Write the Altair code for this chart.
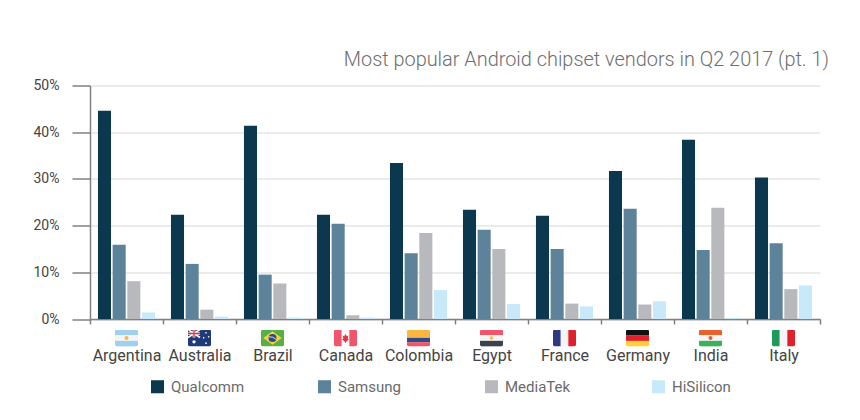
import altair as alt
import pandas as pd
from urllib.parse import quote

countries = ["Argentina", "Australia", "Brazil", "Canada", "Colombia", "Egypt", "France", "Germany", "India", "Italy"]
vendors = ["Qualcomm", "Samsung", "MediaTek", "HiSilicon"]
qualcomm = [44.6, 22.3, 41.4, 22.3, 33.4, 23.4, 22.1, 31.7, 38.4, 30.3]
samsung = [15.9, 11.8, 9.5, 20.4, 14.1, 19.1, 15.0, 23.6, 14.8, 16.2]
mediatek = [8.1, 2.0, 7.6, 0.8, 18.4, 15.0, 3.3, 3.1, 23.8, 6.4]
hisilicon = [1.4, 0.5, 0.3, 0.3, 6.2, 3.2, 2.7, 3.8, 0.2, 7.2]
vendor_colors = ["#0c384f", "#5c8399", "#b8b9bd", "#c8e9f9"]

FONT = "Roboto"


def svg(body):
    s = ('<svg xmlns="http://www.w3.org/2000/svg" width="69" height="51" viewBox="0 0 69 51">'
         '<defs><clipPath id="c"><rect width="69" height="51" rx="6"/></clipPath></defs>'
         '<g clip-path="url(#c)">' + body + '</g></svg>')
    return "data:image/svg+xml," + quote(s)


def bands(colors):
    h = 51 / len(colors)
    return "".join(f'<rect y="{i*h}" width="69" height="{h+0.5}" fill="{c}"/>' for i, c in enumerate(colors))


def vbands(colors):
    w = 69 / len(colors)
    return "".join(f'<rect x="{i*w}" width="{w+0.5}" height="51" fill="{c}"/>' for i, c in enumerate(colors))


flags = [
    svg(bands(["#9fd0f0", "#f5f5f5", "#9fd0f0"]) + '<circle cx="34.5" cy="25.5" r="6" fill="#fbb63f"/>'),
    svg('<rect width="69" height="51" fill="#1e3a78"/>'
        '<rect width="36" height="24" fill="#1e3a78"/>'
        '<path d="M0 0L36 24M36 0L0 24" stroke="#fff" stroke-width="5"/>'
        '<path d="M18 0V24M0 12H36" stroke="#fff" stroke-width="8"/>'
        '<path d="M18 0V24M0 12H36" stroke="#e2334a" stroke-width="4"/>'
        '<circle cx="18" cy="37" r="5" fill="#fff"/><circle cx="54" cy="10" r="2.5" fill="#fff"/>'
        '<circle cx="62" cy="22" r="2.5" fill="#fff"/><circle cx="47" cy="25" r="2.5" fill="#fff"/>'
        '<circle cx="54" cy="41" r="2.5" fill="#fff"/>'),
    svg('<rect width="69" height="51" fill="#55b04a"/><path d="M34.5 5L62 25.5L34.5 46L7 25.5Z" fill="#fbd23c"/>'
        '<circle cx="34.5" cy="25.5" r="12" fill="#2a4a8c"/>'
        '<path d="M23 22Q36 20 46 30" stroke="#fff" stroke-width="2.5" fill="none"/>'),
    svg(vbands(["#f0566a", "#fafafa", "#f0566a"]) +
        '<path d="M34.5 13L38 20L43 18L41 28L45 29L37 36L36 40H33L32 36L24 29L28 28L26 18L31 20Z" fill="#e2334a"/>'),
    svg('<rect width="69" height="25" fill="#fbb63f"/><rect y="25" width="69" height="13" fill="#2e4a8c"/>'
        '<rect y="38" width="69" height="13" fill="#f0566a"/>'),
    svg(bands(["#f0566a", "#f5f5f5", "#3c424c"]) + '<circle cx="34.5" cy="25.5" r="5" fill="#fbb63f"/>'),
    svg(vbands(["#2e3a80", "#f5f5f5", "#e2202c"])),
    svg(bands(["#111111", "#e2202c", "#fbd23c"])),
    svg(bands(["#e8622c", "#f5f5f5", "#3cb05a"]) + '<circle cx="34.5" cy="25.5" r="6" fill="#e8622c"/>'),
    svg(vbands(["#1f9a5a", "#f5f5f5", "#e2202c"])),
]

rows = []
for i, c in enumerate(countries):
    for v, series in zip(vendors, [qualcomm, samsung, mediatek, hisilicon]):
        rows.append({"country": c, "vendor": v, "share": series[i]})
df = pd.DataFrame(rows)
flag_df = pd.DataFrame({"country": countries, "flag": flags})

x_scale = alt.Scale(domain=countries, paddingInner=0, paddingOuter=0)

bars = alt.Chart(df).mark_bar().encode(
    x=alt.X("country:N", sort=countries, scale=x_scale, title=None,
            axis=alt.Axis(labelAngle=0, tickBand="extent", tickSize=5, tickColor="#808080", tickWidth=1.5,
                          domainColor="#808080", domainWidth=1.5, labelPadding=23, labelFont=FONT,
                          labelFontSize=16, labelColor="#444444", grid=False)),
    xOffset=alt.XOffset("vendor:N", sort=vendors, scale=alt.Scale(domain=vendors, paddingInner=0.11, paddingOuter=0.543)),
    y=alt.Y("share:Q", scale=alt.Scale(domain=[0, 50], nice=False), title=None,
            axis=alt.Axis(values=[0, 10, 20, 30, 40, 50], labelExpr="datum.value + '%'", tickSize=18,
                          tickColor="#808080", tickWidth=1.5, domainColor="#808080", domainWidth=1.5,
                          gridColor="#e4e4e4", gridWidth=1.5, labelPadding=13, labelFont=FONT,
                          labelFontSize=14, labelColor="#444444")),
    color=alt.Color("vendor:N", sort=vendors, scale=alt.Scale(domain=vendors, range=vendor_colors), title=None,
                    legend=alt.Legend(orient="none", legendX=60, legendY=293.5, direction="horizontal", columns=4,
                                      symbolType="square", symbolSize=170, symbolStrokeWidth=0, symbolOpacity=1,
                                      gridAlign="all", columnPadding=72, labelFont=FONT, labelFontSize=15,
                                      labelColor="#6a6a6a", labelOffset=6, labelLimit=200)),
)

flag_marks = alt.Chart(flag_df).mark_image(width=23, height=17, aspect=False).encode(
    x=alt.X("country:N", sort=countries, scale=x_scale),
    y=alt.value(252.5),
    url="flag:N",
)

chart = alt.layer(bars, flag_marks).properties(
    width=730, height=233.5,
    background="#ffffff",
    title=alt.TitleParams("Most popular Android chipset vendors in Q2 2017 (pt. 1)", anchor="end", frame="group",
                          font=FONT, fontSize=19.9, fontWeight=300, color="#6e6e6e", offset=8.5, dx=9),
    padding={"left": 82, "top": 77.5, "right": 30, "bottom": 90},
    autosize=alt.AutoSizeParams(type="none"),
).configure_view(stroke=None)

chart.save("out.html", embed_options={"renderer": "svg", "actions": False})
